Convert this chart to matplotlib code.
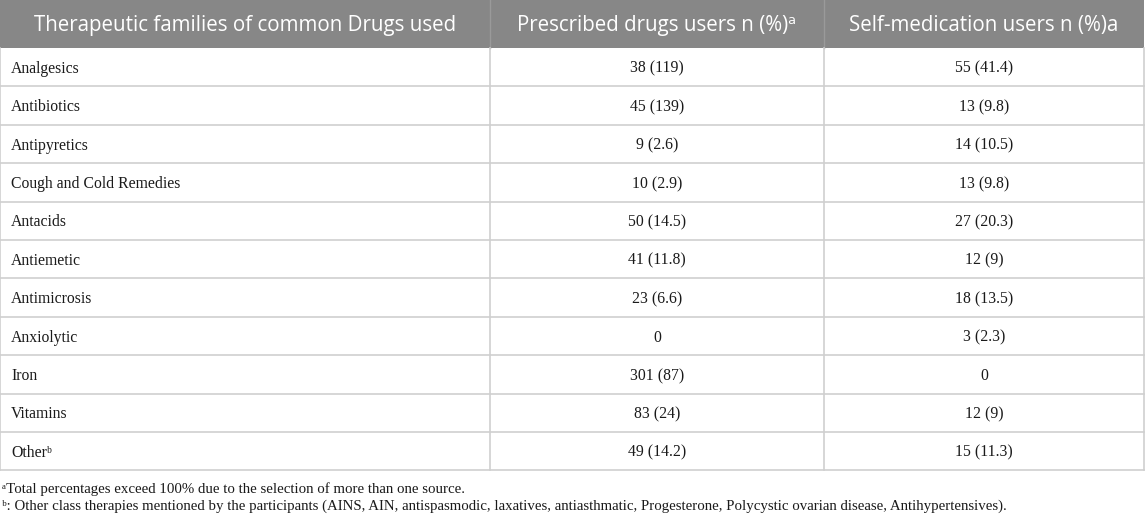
import matplotlib
matplotlib.use("Agg")
import matplotlib.pyplot as plt

# table content
headers = ["Therapeutic families of common Drugs used",
           "Prescribed drugs users n (%)\u1d43",
           "Self-medication users n (%)a"]
families = ["Analgesics", "Antibiotics", "Antipyretics", "Cough and Cold Remedies",
            "Antacids", "Antiemetic", "Antimicrosis", "Anxiolytic", "Iron",
            "Vitamins", "Other\u1d47"]
presc_n = [38, 45, 9, 10, 50, 41, 23, 0, 301, 83, 49]
presc_pct = ["119", "139", "2.6", "2.9", "14.5", "11.8", "6.6", None, "87", "24", "14.2"]
self_n = [55, 13, 14, 13, 27, 12, 18, 3, 0, 12, 15]
self_pct = ["41.4", "9.8", "10.5", "9.8", "20.3", "9", "13.5", "2.3", None, "9", "11.3"]
footnotes = ["\u1d43Total percentages exceed 100% due to the selection of more than one source.",
             "\u1d47: Other class therapies mentioned by the participants (AINS, AIN, antispasmodic, "
             "laxatives, antiasthmatic, Progesterone, Polycystic ovarian disease, Antihypertensives)."]


def cell(n, pct):
    return str(n) if pct is None else "%d (%s)" % (n, pct)


W, H = 1145, 517
fig = plt.figure(figsize=(W / 100, H / 100), dpi=100)
ax = fig.add_axes([0, 0, 1, 1])
ax.set_xlim(0, W)
ax.set_ylim(H, 0)
ax.axis("off")

col_x = [0, 490, 824, 1144]
head_top, head_bot = 0, 48
row_h = 38.4
n_rows = len(families)
table_bot = head_bot + n_rows * row_h

sans = ["Open Sans", "DejaVu Sans"]
serif = ["Liberation Serif", "DejaVu Serif"]
grid = "#cfcfcf"
ink = "#1a1a1a"
fs = 11.3

# header band
ax.fill_between([col_x[0], col_x[-1]], head_top, head_bot, color="#878787", lw=0)
for i, h in enumerate(headers):
    ax.text((col_x[i] + col_x[i + 1]) / 2, (head_top + head_bot) / 2 + 1, h,
            color="white", fontsize=14.8, family=sans, ha="center", va="center")
for x in col_x[1:-1]:
    ax.plot([x, x], [head_top, head_bot], color="#9a9a9a", lw=1)

# body rows
for r in range(n_rows):
    yt = head_bot + (r + 0.5) * row_h + 5.5
    ax.text(col_x[0] + 11, yt, families[r], fontsize=fs, family=serif,
            ha="left", va="baseline", color=ink)
    ax.text((col_x[1] + col_x[2]) / 2, yt, cell(presc_n[r], presc_pct[r]), fontsize=fs,
            family=serif, ha="center", va="baseline", color=ink)
    ax.text((col_x[2] + col_x[3]) / 2, yt, cell(self_n[r], self_pct[r]), fontsize=fs,
            family=serif, ha="center", va="baseline", color=ink)
    yb = head_bot + (r + 1) * row_h
    ax.plot([col_x[0], col_x[-1]], [yb, yb], color=grid, lw=1.2)

for x in col_x:
    ax.plot([x, x], [head_bot, table_bot], color=grid, lw=1.2)

# footnotes
ax.text(2, 493, footnotes[0], fontsize=10.7, family=serif, ha="left", va="baseline", color=ink)
ax.text(2, 510, footnotes[1], fontsize=10.7, family=serif, ha="left", va="baseline", color=ink)

fig.savefig("out.png", dpi=100)
